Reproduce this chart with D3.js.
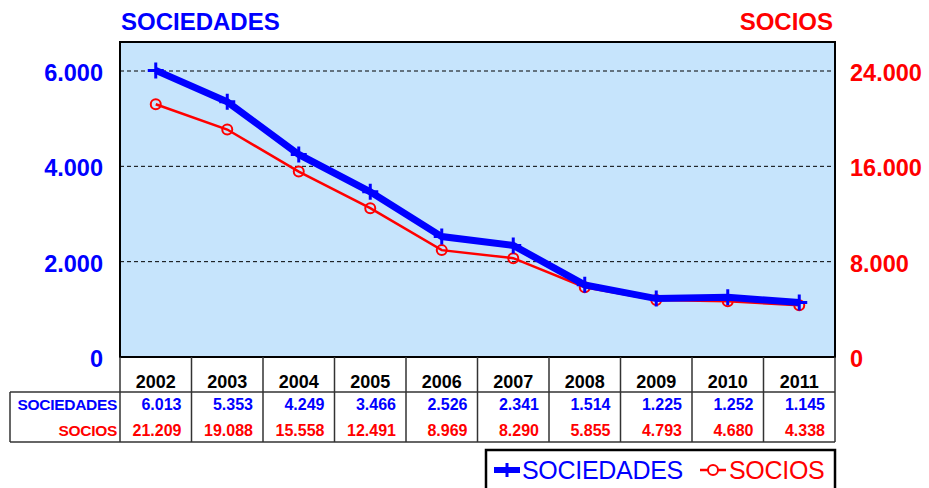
<!DOCTYPE html>
<html>
<head>
<meta charset="utf-8">
<script src="https://cdn.jsdelivr.net/npm/d3@7"></script>
<style>
  html, body { margin: 0; padding: 0; background: #ffffff; }
  svg { display: block; font-family: "Liberation Sans", Arial, sans-serif; }
</style>
</head>
<body>
<div id="chart"></div>
<script>
// 数据
const years = ["2002", "2003", "2004", "2005", "2006", "2007", "2008", "2009", "2010", "2011"];
const sociedades = [6013, 5353, 4249, 3466, 2526, 2341, 1514, 1225, 1252, 1145];
const socios = [21209, 19088, 15558, 12491, 8969, 8290, 5855, 4793, 4680, 4338];
const leftTicks = [0, 2000, 4000, 6000];
const rightTicks = [0, 8000, 16000, 24000];

const width = 929, height = 488;
const blue = "#0000ff", red = "#ff0000";
const fmt = v => d3.format(",")(v).replace(/,/g, ".");

const svg = d3.select("#chart").append("svg")
    .attr("width", width)
    .attr("height", height);

// 绘图区
const plot = { left: 120, right: 835, top: 42, bottom: 357 };

const x = d3.scaleBand().domain(years).range([plot.left, plot.right]);
const yL = d3.scaleLinear().domain([0, 6000]).range([plot.bottom, 71]);
const yR = d3.scaleLinear().domain([0, 24000]).range([plot.bottom, 71]);
const cx = d => x(d) + x.bandwidth() / 2;

svg.append("rect")
    .attr("x", plot.left).attr("y", plot.top)
    .attr("width", plot.right - plot.left).attr("height", plot.bottom - plot.top)
    .attr("fill", "#c6e4fc");

// 网格线
svg.selectAll(".grid").data(leftTicks.filter(t => t > 0)).enter()
    .append("line")
    .attr("x1", plot.left).attr("x2", plot.right)
    .attr("y1", d => yL(d)).attr("y2", d => yL(d))
    .attr("stroke", "#000").attr("stroke-width", 1)
    .attr("stroke-dasharray", "4,3");

svg.append("rect")
    .attr("x", plot.left).attr("y", plot.top)
    .attr("width", plot.right - plot.left).attr("height", plot.bottom - plot.top)
    .attr("fill", "none").attr("stroke", "#000").attr("stroke-width", 2);

// 坐标轴标签
svg.selectAll(".lt").data(leftTicks).enter().append("text")
    .attr("x", 103).attr("y", d => yL(d) + 10)
    .attr("text-anchor", "end")
    .attr("font-size", 23.5).attr("font-weight", "bold").attr("fill", blue)
    .text(d => fmt(d));

svg.selectAll(".rt").data(rightTicks).enter().append("text")
    .attr("x", 850).attr("y", d => yR(d) + 10)
    .attr("text-anchor", "start")
    .attr("font-size", 23.5).attr("font-weight", "bold").attr("fill", red)
    .text(d => fmt(d));

svg.append("text").attr("x", 121).attr("y", 30)
    .attr("font-size", 24).attr("font-weight", "bold").attr("fill", blue)
    .text("SOCIEDADES");
svg.append("text").attr("x", 833).attr("y", 30)
    .attr("text-anchor", "end")
    .attr("font-size", 24).attr("font-weight", "bold").attr("fill", red)
    .text("SOCIOS");

// 线条
const lineL = d3.line().x((d, i) => cx(years[i])).y(d => yL(d));
const lineR = d3.line().x((d, i) => cx(years[i])).y(d => yR(d));

svg.append("path").datum(socios)
    .attr("d", lineR).attr("fill", "none")
    .attr("stroke", red).attr("stroke-width", 2.5);
svg.selectAll(".cir").data(socios).enter().append("circle")
    .attr("cx", (d, i) => cx(years[i])).attr("cy", d => yR(d))
    .attr("r", 5).attr("fill", "none")
    .attr("stroke", red).attr("stroke-width", 2);

svg.append("path").datum(sociedades)
    .attr("d", lineL).attr("fill", "none")
    .attr("stroke", blue).attr("stroke-width", 7);
svg.selectAll(".mk").data(sociedades).enter().append("path")
    .attr("transform", (d, i) => `translate(${cx(years[i])},${yL(d)})`)
    .attr("d", "M-8,0H8M0,-8V8")
    .attr("stroke", blue).attr("stroke-width", 3);

// 数据表
const tbl = { left: 10, hTop: plot.bottom, rowTop: 392, bottom: 442 };
const tg = svg.append("g").attr("stroke", "#333").attr("stroke-width", 1.5);
tg.append("line").attr("x1", tbl.left).attr("x2", plot.right).attr("y1", tbl.rowTop).attr("y2", tbl.rowTop);
tg.append("line").attr("x1", tbl.left).attr("x2", plot.right).attr("y1", tbl.bottom).attr("y2", tbl.bottom);
tg.append("line").attr("x1", tbl.left).attr("x2", tbl.left).attr("y1", tbl.rowTop).attr("y2", tbl.bottom);
tg.selectAll(".vl").data(years).enter().append("line")
    .attr("x1", d => x(d)).attr("x2", d => x(d))
    .attr("y1", tbl.hTop).attr("y2", tbl.bottom);
tg.append("line").attr("x1", plot.right).attr("x2", plot.right).attr("y1", tbl.hTop).attr("y2", tbl.bottom);

svg.selectAll(".yr").data(years).enter().append("text")
    .attr("x", d => cx(d)).attr("y", 388)
    .attr("text-anchor", "middle")
    .attr("font-size", 18).attr("font-weight", "bold").attr("fill", "#000")
    .text(d => d);

svg.append("text").attr("x", 117).attr("y", 410)
    .attr("text-anchor", "end").attr("font-size", 15.5).attr("font-weight", "bold")
    .attr("fill", blue).attr("letter-spacing", -0.3).text("SOCIEDADES");
svg.append("text").attr("x", 117).attr("y", 436)
    .attr("text-anchor", "end").attr("font-size", 15.5).attr("font-weight", "bold")
    .attr("fill", red).attr("letter-spacing", -0.3).text("SOCIOS");

svg.selectAll(".v1").data(sociedades).enter().append("text")
    .attr("x", (d, i) => x(years[i]) + x.bandwidth() - 10).attr("y", 410)
    .attr("text-anchor", "end").attr("font-size", 16).attr("font-weight", "bold")
    .attr("fill", blue)
    .text(d => fmt(d));
svg.selectAll(".v2").data(socios).enter().append("text")
    .attr("x", (d, i) => x(years[i]) + x.bandwidth() - 10).attr("y", 436)
    .attr("text-anchor", "end").attr("font-size", 16).attr("font-weight", "bold")
    .attr("fill", red)
    .text(d => fmt(d));

// 图例
const lg = svg.append("g");
lg.append("rect").attr("x", 486).attr("y", 450).attr("width", 349).attr("height", 50)
    .attr("fill", "#fff").attr("stroke", "#000").attr("stroke-width", 2.5);
lg.append("line").attr("x1", 494).attr("x2", 520).attr("y1", 470).attr("y2", 470)
    .attr("stroke", blue).attr("stroke-width", 6);
lg.append("path").attr("d", "M507,463V477").attr("stroke", blue).attr("stroke-width", 3);
lg.append("text").attr("x", 522).attr("y", 479)
    .attr("font-size", 25).attr("fill", blue).attr("letter-spacing", -0.3)
    .text("SOCIEDADES");
lg.append("line").attr("x1", 700).attr("x2", 726).attr("y1", 470).attr("y2", 470)
    .attr("stroke", red).attr("stroke-width", 2.5);
lg.append("circle").attr("cx", 713).attr("cy", 470).attr("r", 5)
    .attr("fill", "#fff").attr("stroke", red).attr("stroke-width", 2);
lg.append("text").attr("x", 729).attr("y", 479)
    .attr("font-size", 25).attr("fill", red).attr("letter-spacing", -0.3)
    .text("SOCIOS");
</script>
</body>
</html>
